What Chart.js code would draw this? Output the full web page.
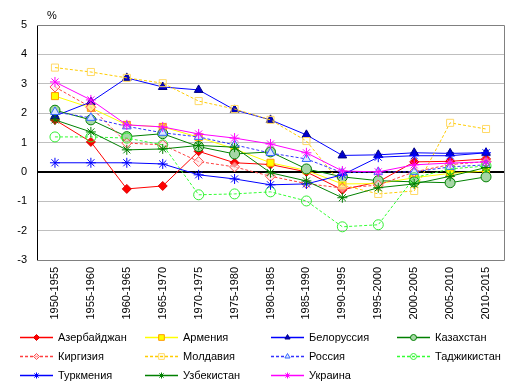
<!DOCTYPE html>
<html><head><meta charset="utf-8">
<script src="https://cdn.jsdelivr.net/npm/chart.js@4/dist/chart.umd.min.js"></script>
<style>html,body{margin:0;padding:0;background:#fff}#wrap{width:519px;height:389px}</style>
</head><body><div id="wrap"><canvas id="c" width="519" height="389"></canvas></div>
<script>
const categories = ['1950-1955','1955-1960','1960-1965','1965-1970','1970-1975','1975-1980','1980-1985','1985-1990','1990-1995','1995-2000','2000-2005','2005-2010','2010-2015'];
const yTicks = [-3,-2,-1,0,1,2,3,4,5];
const azerbaijan = [1.77, 1.02, -0.58, -0.48, 0.7, 0.31, 0.25, 0.0, -0.61, -0.34, 0.34, 0.36, 0.44];
const armenia    = [2.58, 2.18, 1.6, 1.53, 1.18, 0.78, 0.31, 0.05, -0.41, -0.4, -0.2, -0.05, 0.03];
const belarus    = [1.9, 2.38, 3.2, 2.89, 2.79, 2.11, 1.77, 1.26, 0.56, 0.58, 0.65, 0.63, 0.65];
const kazakhstan = [2.1, 1.77, 1.2, 1.3, 0.86, 0.61, 0.68, 0.1, -0.17, -0.3, -0.34, -0.37, -0.17];
const kyrgyzstan = [2.89, 2.2, 0.98, 0.92, 0.35, 0.17, -0.15, -0.4, -0.55, -0.45, 0.0, 0.25, 0.35];
const moldova    = [3.55, 3.4, 3.2, 3.02, 2.41, 2.14, 1.77, 1.05, -0.45, -0.75, -0.65, 1.67, 1.46];
const russia     = [2.04, 1.84, 1.55, 1.33, 1.19, 0.92, 0.64, 0.44, -0.03, 0.0, 0.0, 0.17, 0.24];
const tajikistan = [1.19, 1.19, 1.15, 0.92, -0.78, -0.75, -0.68, -0.99, -1.87, -1.8, -0.2, 0.1, 0.2];
const turkmenia  = [0.31, 0.31, 0.31, 0.27, -0.1, -0.24, -0.44, -0.41, -0.1, 0.5, 0.55, 0.55, 0.65];
const uzbekistan = [1.77, 1.36, 0.75, 0.78, 0.9, 0.84, -0.03, -0.31, -0.88, -0.54, -0.41, -0.15, 0.15];
const ukraine    = [3.06, 2.45, 1.6, 1.53, 1.29, 1.15, 0.95, 0.65, 0.03, 0.0, 0.24, 0.3, 0.34];

const dash = [3,2];
const series = [
 {label:'Азербайджан', data:azerbaijan, line:'#FF0000', fill:'#FF0000', border:'#DD0000', style:'rectRot', r:4.5, dash:[]},
 {label:'Армения', data:armenia, line:'#FFFF00', fill:'#FFFF00', border:'#FF9900', style:'rect', r:5, dash:[]},
 {label:'Белоруссия', data:belarus, line:'#0000FF', fill:'#0000CC', border:'#000080', style:'triangle', r:5, dash:[]},
 {label:'Казахстан', data:kazakhstan, line:'#008000', fill:'#A6D6A6', border:'#008000', style:'circle', r:5, dash:[]},
 {label:'Киргизия', data:kyrgyzstan, line:'#FF4040', fill:'rgba(255,230,230,0.6)', border:'#FF5050', style:'rectRot', r:5, dash:dash},
 {label:'Молдавия', data:moldova, line:'#FFCC00', fill:'rgba(255,255,255,0)', border:'#FFD966', style:'rect', r:5, dash:dash},
 {label:'Россия', data:russia, line:'#3333FF', fill:'#DDE8FF', border:'#3366FF', style:'triangle', r:5, dash:dash},
 {label:'Таджикистан', data:tajikistan, line:'#33FF33', fill:'rgba(255,255,255,0)', border:'#33EE33', style:'circle', r:5, dash:dash},
 {label:'Туркмения', data:turkmenia, line:'#0000FF', fill:'#0000FF', border:'#0000FF', style:'star', r:5, dash:[]},
 {label:'Узбекистан', data:uzbekistan, line:'#008000', fill:'#008000', border:'#008000', style:'star', r:5, dash:[]},
 {label:'Украина', data:ukraine, line:'#FF00FF', fill:'#FF00FF', border:'#FF00FF', style:'star', r:5, dash:[]}
];
const N = series.length;
const datasets = series.map((s,i)=>({
  label:s.label, data:s.data, borderColor:s.line, borderWidth:1, borderDash:s.dash,
  pointStyle:s.style, pointRadius:s.r, pointBackgroundColor:s.fill, pointBorderColor:s.border,
  pointBorderWidth:1, tension:0, fill:false, order:N-1-i
}));

const FONT = '"Liberation Sans", Arial, sans-serif';

const extras = {
  id:'extras',
  beforeDatasetsDraw(chart){
    const {ctx, chartArea:a} = chart;
    ctx.save();
    ctx.strokeStyle='#808080'; ctx.lineWidth=1;
    ctx.beginPath();
    ctx.moveTo(a.left, Math.round(a.top)+0.5); ctx.lineTo(Math.round(a.right)+0.5, Math.round(a.top)+0.5);
    ctx.lineTo(Math.round(a.right)+0.5, Math.round(a.bottom)+0.5); ctx.lineTo(a.left, Math.round(a.bottom)+0.5);
    ctx.stroke();
    const y0 = Math.round(chart.scales.y.getPixelForValue(0))+0.5;
    ctx.strokeStyle='#000'; ctx.beginPath(); ctx.moveTo(a.left,y0); ctx.lineTo(a.right,y0); ctx.stroke();
    ctx.restore();
  },
  afterDraw(chart){
    const {ctx, chartArea:a} = chart;
    ctx.save();
    ctx.fillStyle='#000'; ctx.font='11px '+FONT; ctx.textBaseline='alphabetic'; ctx.textAlign='left';
    ctx.fillText('%', a.left+10, a.top-6);
    const colX=[20,145,271,397], rowY=[337,356,375];
    series.forEach((s,i)=>{
      const c=i%4, r=Math.floor(i/4);
      const x=colX[c], y=rowY[r];
      ctx.save();
      ctx.strokeStyle=s.line; ctx.lineWidth=1.3; ctx.setLineDash(s.dash);
      ctx.beginPath(); ctx.moveTo(x,y+0.5); ctx.lineTo(x+33,y+0.5); ctx.stroke();
      ctx.setLineDash([]);
      ctx.fillStyle = s.fill; ctx.strokeStyle = s.border; ctx.lineWidth=1;
      Chart.helpers.drawPoint(ctx,{pointStyle:s.style, radius:s.style==='rect'?4:3, rotation:0, borderWidth:1}, x+16.5, y+0.5);
      ctx.restore();
      ctx.fillStyle='#000'; ctx.font='11px '+FONT; ctx.textBaseline='middle';
      ctx.fillText(s.label, x+38, y+1);
    });
    ctx.restore();
  }
};

new Chart(document.getElementById('c'), {
  type:'line',
  data:{labels:categories, datasets},
  options:{
    responsive:false, animation:false, maintainAspectRatio:false,
    layout:{padding:{top:25, right:15, bottom:59, left:0}},
    plugins:{legend:{display:false}, tooltip:{enabled:false}},
    scales:{
      x:{
        offset:true,
        grid:{display:false, drawTicks:false},
        border:{display:false},
        ticks:{color:'#000', font:{family:FONT, size:11}, maxRotation:90, minRotation:90, padding:7, autoSkip:false},
        afterFit(s){ s.height = 70; }
      },
      y:{
        min:-3, max:5,
        afterBuildTicks(s){ s.ticks = yTicks.map(v=>({value:v})); },
        grid:{color:(c)=> (c.tick && (c.tick.value===5||c.tick.value===-3)) ? '#808080' : (c.tick && c.tick.value===0 ? '#000' : '#BFBFBF'), drawTicks:false, lineWidth:1},
        border:{display:true, color:'#000', width:1},
        ticks:{color:'#000', font:{family:FONT, size:11}, padding:10},
        afterFit(s){ s.width = 37; }
      }
    }
  },
  plugins:[extras]
});
</script></body></html>
